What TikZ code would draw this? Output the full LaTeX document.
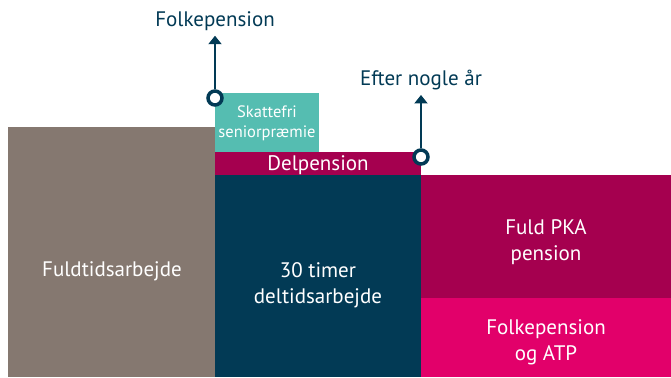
\documentclass[tikz,border=0pt]{standalone}
\usepackage{fontspec}
\setmainfont{PT Sans}
\usetikzlibrary{arrows.meta}
\definecolor{stone}{HTML}{857870}
\definecolor{seagreen}{HTML}{55BDB1}
\definecolor{plum}{HTML}{A5004F}
\definecolor{navy}{HTML}{023A55}
\definecolor{rose}{HTML}{E2006A}

\begin{document}
\begin{tikzpicture}[x=1pt,y=1pt,
    lbl/.style={text=white, align=center, font=\fontsize{21}{26}\selectfont},
    small/.style={text=white, align=center, font=\fontsize{16.5}{20}\selectfont},
    note/.style={text=navy, anchor=base, font=\fontsize{21}{24}\selectfont},
    ring/.style={circle, draw=navy, line width=3.5pt, fill=white, minimum size=14pt, inner sep=0pt},
    pointer/.style={navy, line width=2pt, -{Triangle[width=13pt,length=8.5pt]}, shorten >=1pt}]
      \useasboundingbox (0,0) rectangle (671,377);
      % the blocks
      \fill[stone] (8,0) rectangle (215,250);
      \fill[seagreen] (215,225) rectangle (319,284);
      \fill[plum] (215,202) rectangle (421,225);
      \fill[navy] (215,0) rectangle (421,202);
      \fill[plum] (421,79) rectangle (671,202);
      \fill[rose] (421,0) rectangle (671,79);
      % texts in the blocks
      \node[lbl] (fuldtid) at (112,106) {Fuldtidsarbejde};
      \node[small] (senior) at (267,254) {Skattefri\\seniorpræmie};
      \node[lbl] (delpension) at (318,212) {Delpension};
      \node[lbl] (deltid) at (318,92) {30 timer\\deltidsarbejde};
      \node[lbl] (pka) at (546,135) {Fuld PKA\\pension};
      \node[lbl] (atp) at (546,35) {Folkepension\\og ATP};
      % the two steps
      \node[note] (folke) at (215,350) {Folkepension};
      \node[note] (efter) at (421,291) {Efter nogle år};
      \node[ring] (start) at (215,279) {};
      \node[ring] (later) at (421,220) {};
      \draw[pointer] (start) -- (folke);
      \draw[pointer] (later) -- (efter);
    \end{tikzpicture}
\end{document}
